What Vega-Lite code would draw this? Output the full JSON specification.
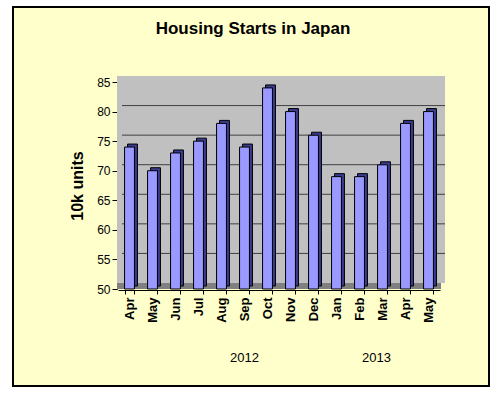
{
  "$schema": "https://vega.github.io/schema/vega-lite/v6.json",
  "autosize": "none",
  "width": 476,
  "height": 379,
  "padding": {"left": 13, "top": 7, "right": 12, "bottom": 8},
  "background": "#ffffff",
  "config": {
    "view": {"fill": "#FFFFCC", "stroke": "#000000", "strokeWidth": 2},
    "font": "Liberation Sans"
  },
  "title": {
    "text": "Housing Starts in Japan",
    "fontSize": 17,
    "fontWeight": "bold",
    "font": "Liberation Sans",
    "color": "#000000",
    "anchor": "middle",
    "frame": "group",
    "orient": "top",
    "offset": -29,
    "baseline": "alphabetic",
    "dx": 2,
    "dy": 15
  },
  "datasets": {
    "starts": [
      {"month": "Apr 2012", "value": 74, "base": 50},
      {"month": "May 2012", "value": 70, "base": 50},
      {"month": "Jun 2012", "value": 73, "base": 50},
      {"month": "Jul 2012", "value": 75, "base": 50},
      {"month": "Aug 2012", "value": 78, "base": 50},
      {"month": "Sep 2012", "value": 74, "base": 50},
      {"month": "Oct 2012", "value": 84, "base": 50},
      {"month": "Nov 2012", "value": 80, "base": 50},
      {"month": "Dec 2012", "value": 76, "base": 50},
      {"month": "Jan 2013", "value": 69, "base": 50},
      {"month": "Feb 2013", "value": 69, "base": 50},
      {"month": "Mar 2013", "value": 71, "base": 50},
      {"month": "Apr 2013", "value": 78, "base": 50},
      {"month": "May 2013", "value": 80, "base": 50}
    ],
    "grid": [
      {"level": 55, "from": 0, "to": 1},
      {"level": 60, "from": 0, "to": 1},
      {"level": 65, "from": 0, "to": 1},
      {"level": 70, "from": 0, "to": 1},
      {"level": 75, "from": 0, "to": 1},
      {"level": 80, "from": 0, "to": 1}
    ],
    "wall": [{"left": 0, "right": 1, "top": 85, "bottom": 50}]
  },
  "resolve": {"scale": {"x": "independent"}},
  "layer": [
    {
      "data": {"name": "wall"},
      "mark": {"type": "rect", "fill": "#C0C0C0", "yOffset": -6, "y2Offset": -6},
      "encoding": {
        "x": {"field": "left", "type": "quantitative", "scale": {"domain": [0, 1], "range": [104, 432]}, "axis": null},
        "x2": {"field": "right"},
        "y": {"field": "top", "type": "quantitative", "scale": {"domain": [50, 85], "range": [282, 75], "zero": false, "nice": false}},
        "y2": {"field": "bottom"}
      }
    },
    {
      "data": {"name": "wall"},
      "mark": {"type": "rect", "fill": "#808080", "yOffset": -6},
      "encoding": {
        "x": {"field": "left", "type": "quantitative", "scale": {"domain": [0, 1], "range": [104, 428]}, "axis": null},
        "x2": {"field": "right"},
        "y": {"field": "bottom", "type": "quantitative"},
        "y2": {"field": "bottom"}
      }
    },
    {
      "data": {"name": "grid"},
      "mark": {"type": "rule", "color": "#404040", "strokeWidth": 1, "yOffset": -6},
      "encoding": {
        "x": {"field": "from", "type": "quantitative", "scale": {"domain": [0, 1], "range": [109, 432]}, "axis": null},
        "x2": {"field": "to"},
        "y": {"field": "level", "type": "quantitative"}
      }
    },
    {
      "data": {"name": "starts"},
      "mark": {"type": "bar", "fill": "#3a3a8f", "stroke": "#000000", "strokeWidth": 1, "xOffset": 3, "yOffset": -3, "y2Offset": -3},
      "encoding": {
        "x": {"field": "month", "type": "nominal", "sort": null, "scale": {"range": [105, 427], "paddingInner": 0.57, "paddingOuter": 0.285}, "axis": null},
        "y": {"field": "value", "type": "quantitative"},
        "y2": {"field": "base"}
      }
    },
    {
      "data": {"name": "starts"},
      "mark": {"type": "bar", "fill": "#9999FF", "stroke": "#000000", "strokeWidth": 1},
      "encoding": {
        "x": {
          "field": "month", "type": "nominal", "sort": null,
          "scale": {"range": [105, 427], "paddingInner": 0.57, "paddingOuter": 0.285},
          "axis": {
            "orient": "bottom",
            "title": null, "labelAngle": -90,
            "labelExpr": "isString(datum.value) ? split(datum.value, ' ')[0] : ''",
            "offset": -96, "domainColor": "#000000", "tickColor": "#000000", "tickSize": 4,
            "tickBand": "extent", "labelPadding": 3, "labelFontSize": 13, "labelFontWeight": "bold",
            "labelColor": "#000000", "labelFont": "Liberation Sans"
          }
        },
        "y": {
          "field": "value", "type": "quantitative", "title": "10k units",
          "axis": {
            "offset": -104, "values": [50, 55, 60, 65, 70, 75, 80, 85], "grid": false,
            "domainColor": "#000000", "tickColor": "#000000", "tickSize": 5, "labelPadding": 2,
            "labelFontSize": 12, "labelColor": "#000000", "labelFont": "Liberation Sans",
            "titleFontSize": 16, "titleFontWeight": "bold", "titleColor": "#000000",
            "titlePadding": 11, "titleFont": "Liberation Sans"
          }
        },
        "y2": {"field": "base"}
      }
    },
    {
      "data": {"name": "starts"},
      "mark": {"type": "point", "opacity": 0},
      "encoding": {
        "x": {
          "field": "month", "type": "nominal", "sort": null,
          "scale": {"type": "band", "range": [105, 427], "paddingInner": 0.57, "paddingOuter": 0.285},
          "axis": {
            "orient": "bottom",
            "title": null, "labelAngle": 0,
            "labelExpr": "datum.value == 'Sep 2012' ? '2012' : datum.value == 'Mar 2013' ? '2013' : ''",
            "labelOffset": {"condition": {"test": "datum.value == 'Mar 2013'", "value": -6}, "value": 0},
            "domain": false, "ticks": false, "offset": -35, "labelPadding": 0,
            "labelFontSize": 13, "labelColor": "#000000", "labelOverlap": false, "labelFont": "Liberation Sans"
          }
        },
        "y": {"field": "value", "type": "quantitative"}
      }
    }
  ]
}
